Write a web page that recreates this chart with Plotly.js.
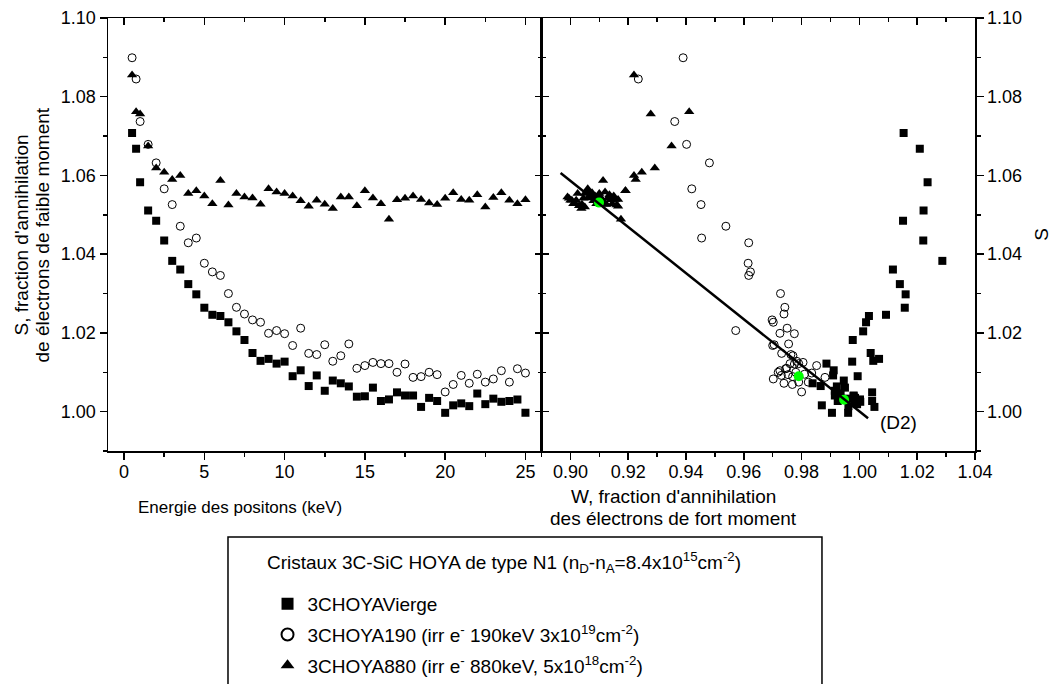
<!DOCTYPE html>
<html><head><meta charset="utf-8">
<script src="https://cdn.plot.ly/plotly-3.0.1.min.js"></script>
<style>html,body{margin:0;padding:0;background:#fff}#chart{width:1052px;height:684px}</style>
</head><body><div id="chart"></div>
<script>
// Positron energy (keV)
const energy = [0.5,0.75,1,1.5,2,2.5,3,3.5,4,4.5,5,5.5,6,6.5,7,7.5,8,8.5,9,9.5,10,10.5,11,11.5,12,12.5,13,13.5,14,14.5,15,15.5,16,16.5,17,17.5,18,18.5,19,19.5,20,20.5,21,21.5,22,22.5,23,23.5,24,24.5,25];

// 3CHOYAVierge
const sVierge = [1.0708,1.0668,1.0583,1.0511,1.0485,1.0435,1.0383,1.0361,1.0324,1.0298,1.0264,1.0246,1.0243,1.0227,1.0204,1.0182,1.0149,1.0129,1.0134,1.0122,1.0127,1.0090,1.0105,1.0065,1.0092,1.0053,1.0079,1.0072,1.0064,1.0038,1.0039,1.0061,1.0027,1.0031,1.0049,1.0041,1.0041,1.0012,1.0035,1.0027,0.9997,1.0016,1.0021,1.0014,1.0046,1.0019,1.0033,1.0025,1.0027,1.0031,0.9997];
const wVierge = [1.0153,1.0209,1.0236,1.0222,1.0151,1.0221,1.0287,1.0116,1.0140,1.0160,1.0157,1.0092,1.0033,1.0023,1.0013,0.9977,1.0039,1.0048,1.0068,0.9886,0.9975,0.9994,0.9911,0.9866,0.9909,0.9915,0.9946,0.9838,0.9922,0.9930,0.9980,0.9950,0.9925,0.9940,1.0044,0.9915,0.9980,1.0052,0.9985,0.9985,0.9905,0.9870,0.9990,0.9962,0.9935,0.9992,0.9960,1.0003,1.0044,1.0002,0.9961];

// 3CHOYA190
const s190 = [1.0899,1.0845,1.0737,1.0679,1.0632,1.0566,1.0526,1.0471,1.0429,1.0441,1.0377,1.0355,1.0346,1.0300,1.0265,1.0248,1.0233,1.0227,1.0199,1.0206,1.0198,1.0168,1.0212,1.0148,1.0145,1.0170,1.0128,1.0142,1.0172,1.0110,1.0117,1.0125,1.0122,1.0122,1.0100,1.0121,1.0087,1.0089,1.0100,1.0094,1.0050,1.0069,1.0092,1.0072,1.0095,1.0075,1.0083,1.0104,1.0075,1.0109,1.0098];
const w190 = [0.9390,0.9235,0.9361,0.9402,0.9481,0.9420,0.9452,0.9538,0.9617,0.9454,0.9615,0.9623,0.9617,0.9727,0.9742,0.9739,0.9698,0.9702,0.9725,0.9572,0.9775,0.9700,0.9750,0.9731,0.9763,0.9705,0.9783,0.9770,0.9755,0.9748,0.9852,0.9805,0.9790,0.9760,0.9719,0.9775,0.9881,0.9769,0.9780,0.9753,0.9800,0.9768,0.9730,0.9739,0.9810,0.9823,0.9702,0.9725,0.9790,0.9745,0.9835];

// 3CHOYA880
const s880 = [1.0855,1.0762,1.0756,1.0675,1.0619,1.0608,1.0590,1.0600,1.0554,1.0561,1.0548,1.0528,1.0587,1.0525,1.0554,1.0545,1.0543,1.0527,1.0566,1.0558,1.0554,1.0548,1.0536,1.0522,1.0537,1.0527,1.0516,1.0545,1.0545,1.0523,1.0561,1.0543,1.0528,1.0489,1.0538,1.0542,1.0548,1.0539,1.0530,1.0526,1.0542,1.0556,1.0539,1.0537,1.0551,1.0520,1.0544,1.0556,1.0537,1.0528,1.0538];
const w880 = [0.9220,0.9411,0.9278,0.9350,0.9292,0.9247,0.9226,0.9220,0.9050,0.9190,0.9070,0.9010,0.9113,0.9160,0.9100,0.8990,0.9130,0.9040,0.9060,0.9120,0.9025,0.9150,0.9080,0.9165,0.9005,0.9120,0.9038,0.9095,0.9140,0.9030,0.9191,0.9060,0.9145,0.9175,0.9110,0.8995,0.9085,0.9155,0.9015,0.9125,0.9045,0.9075,0.9165,0.9000,0.9135,0.9050,0.9105,0.9060,0.9020,0.9090,0.9140];

// Green reference points and line (D2)
const wGreen = [0.9099,0.9790,0.9947];
const sGreen = [1.0531,1.0090,1.0030];
const wD2 = [0.8966,1.0030];
const sD2 = [1.0606,0.9983];
const d2Label = {w:1.0134, s:0.9973, text:'(D2)'};

const names = ['3CHOYAVierge',
  '3CHOYA190 (irr e<sup>-</sup> 190keV 3x10<sup>19</sup>cm<sup>-2</sup>)',
  '3CHOYA880 (irr e<sup>-</sup> 880keV, 5x10<sup>18</sup>cm<sup>-2</sup>)'];
const legendTitle = 'Cristaux 3C-SiC HOYA de type N1 (n<sub>D</sub>-n<sub>A</sub>=8.4x10<sup>15</sup>cm<sup>-2</sup>)';
const xTitleLeft = 'Energie des positons (keV)';
const xTitleRight = ["W, fraction d'annihilation", 'des électrons de fort moment'];
const yTitleLeft = ["S, fraction d'annihilation", 'de électrons de faible moment'];
const yTitleRight = 'S';

const FONT = 'Liberation Sans, Arial, sans-serif';
const mk = {
  sq: {symbol:'square', size:8, color:'#000'},
  ci: {symbol:'circle-open', size:8, color:'#000', line:{width:1, color:'#000'}},
  tr: {symbol:'triangle-up', size:9, color:'#000'}
};

const traces = [
  {x:energy, y:sVierge, xaxis:'x', yaxis:'y', mode:'markers', marker:mk.sq, name:names[0], legendgroup:'a'},
  {x:energy, y:s190, xaxis:'x', yaxis:'y', mode:'markers', marker:mk.ci, name:names[1], legendgroup:'b'},
  {x:energy, y:s880, xaxis:'x', yaxis:'y', mode:'markers', marker:mk.tr, name:names[2], legendgroup:'c'},
  {x:wVierge, y:sVierge, xaxis:'x2', yaxis:'y2', mode:'markers', marker:mk.sq, name:names[0], legendgroup:'a', showlegend:false},
  {x:w190, y:s190, xaxis:'x2', yaxis:'y2', mode:'markers', marker:mk.ci, name:names[1], legendgroup:'b', showlegend:false},
  {x:w880, y:s880, xaxis:'x2', yaxis:'y2', mode:'markers', marker:mk.tr, name:names[2], legendgroup:'c', showlegend:false},
  {x:wGreen, y:sGreen, xaxis:'x2', yaxis:'y2', mode:'markers', marker:{symbol:'circle', size:10, color:'#00ff00'}, showlegend:false, hoverinfo:'skip'},
  {x:wD2, y:sD2, xaxis:'x2', yaxis:'y2', mode:'lines', line:{color:'#000', width:2.5}, showlegend:false, hoverinfo:'skip'},
  // empty traces that make the mirrored (inside-tick) frame axes draw
  {x:[], y:[], xaxis:'x3', yaxis:'y', showlegend:false},
  {x:[], y:[], xaxis:'x', yaxis:'y3', showlegend:false},
  {x:[], y:[], xaxis:'x4', yaxis:'y2', showlegend:false},
  {x:[], y:[], xaxis:'x2', yaxis:'y4', showlegend:false}
];

function ax(o){
  return Object.assign({
    showgrid:false, zeroline:false, showline:true, linecolor:'#000', linewidth:1.5,
    ticks:'outside', ticklen:7, tickwidth:1.5, tickcolor:'#000', automargin:false,
    tickfont:{family:FONT, size:18, color:'#000'}
  }, o);
}
function minor(dir, dt, t0){ return {ticks:dir, ticklen:4, tickwidth:1.5, tickcolor:'#000', dtick:dt, tick0:t0, showgrid:false}; }

const xL = {range:[-1,26], dtick:5, tick0:0};
const xR = {range:[0.89,1.04], dtick:0.02, tick0:0.9, tickformat:'.2f'};
const yC = {range:[0.99,1.10], dtick:0.02, tick0:1.0, tickformat:'.2f'};

function ann(o){ return Object.assign({xref:'paper', yref:'paper', showarrow:false, xanchor:'center', yanchor:'middle', font:{family:FONT, size:19, color:'#000'}}, o); }

const layout = {
  width:1052, height:684,
  margin:{l:108, r:77, t:18, b:233, pad:0, autoexpand:false},
  paper_bgcolor:'#fff', plot_bgcolor:'#fff',
  font:{family:FONT, size:18, color:'#000'},
  xaxis: ax(Object.assign({domain:[0,0.5], anchor:'y', ticklabelstandoff:-3, minor:minor('outside',2.5,0)}, xL)),
  xaxis3: ax(Object.assign({overlaying:'x', side:'top', anchor:'y', ticks:'inside', showticklabels:false, minor:minor('inside',2.5,0)}, xL)),
  xaxis2: ax(Object.assign({domain:[0.5,1], anchor:'y2', ticklabelstandoff:-3, minor:minor('outside',0.01,0.9)}, xR)),
  xaxis4: ax(Object.assign({overlaying:'x2', side:'top', anchor:'y2', ticks:'inside', showticklabels:false, minor:minor('inside',0.01,0.9)}, xR)),
  yaxis: ax(Object.assign({domain:[0,1], anchor:'x', side:'left', minor:minor('outside',0.01,1.0)}, yC)),
  yaxis3: ax(Object.assign({overlaying:'y', anchor:'x', side:'right', ticks:'inside', showticklabels:false, minor:minor('inside',0.01,1.0)}, yC)),
  yaxis2: ax(Object.assign({domain:[0,1], anchor:'x2', side:'right', minor:minor('outside',0.01,1.0),
     title:{text:yTitleRight, font:{family:FONT, size:19, color:'#000'}, standoff:18}}, yC)),
  yaxis4: ax(Object.assign({overlaying:'y2', anchor:'x2', side:'left', ticks:'inside', showticklabels:false, minor:minor('inside',0.01,1.0)}, yC)),
  showlegend:true,
  legend:{
    x:0.184, y:-0.3095, xanchor:'left', yanchor:'top',
    bgcolor:'rgba(0,0,0,0)', borderwidth:0,
    font:{family:FONT, size:19, color:'#000'},
    traceorder:'grouped', tracegroupgap:3, itemsizing:'constant'
  },
  shapes:[
    {type:'rect', xref:'paper', yref:'paper', x0:0.1384, x1:0.8235, y0:-0.62, y1:-0.1986, line:{color:'#000', width:1.5}, fillcolor:'rgba(0,0,0,0)'}
  ],
  annotations:[
    ann({x:0.181, y:-0.2564, xanchor:'left', text:legendTitle}),
    ann({x:0.1522, y:-0.1316, text:xTitleLeft, font:{family:FONT, size:17, color:'#000'}}),
    ann({x:0.6528, y:-0.1062, text:xTitleRight[0]}),
    ann({x:0.6528, y:-0.157, text:xTitleRight[1]}),
    ann({x:-0.0992, y:0.5, textangle:-90, text:yTitleLeft[0]}),
    ann({x:-0.075, y:0.5, textangle:-90, text:yTitleLeft[1]}),
    {xref:'x2', yref:'y2', x:d2Label.w, y:d2Label.s, xanchor:'center', yanchor:'middle', showarrow:false, text:d2Label.text, font:{family:FONT, size:19, color:'#000'}}
  ]
};

Plotly.newPlot('chart', traces, layout, {displayModeBar:false, staticPlot:true});
</script>
</body></html>
